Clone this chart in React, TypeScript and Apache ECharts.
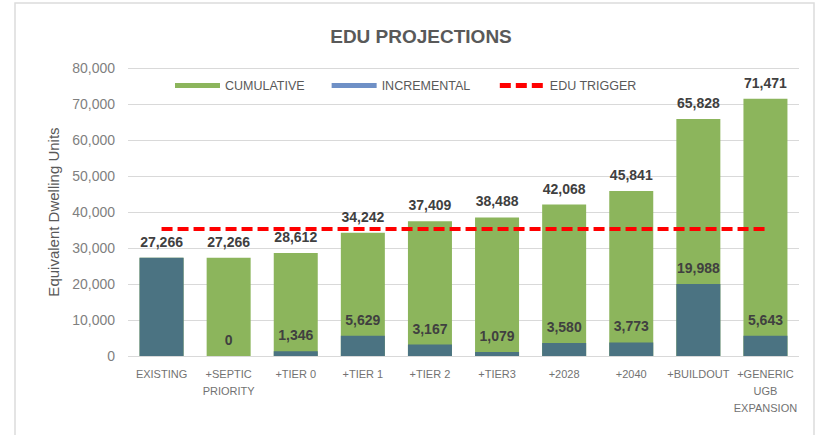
import React, { useEffect, useRef } from "react";
import * as echarts from "echarts";

const categories = [
  "EXISTING",
  "+SEPTIC\nPRIORITY",
  "+TIER 0",
  "+TIER 1",
  "+TIER 2",
  "+TIER3",
  "+2028",
  "+2040",
  "+BUILDOUT",
  "+GENERIC\nUGB\nEXPANSION",
];
const cumulative = [27266, 27266, 28612, 34242, 37409, 38488, 42068, 45841, 65828, 71471];
const incremental = [27266, 0, 1346, 5629, 3167, 1079, 3580, 3773, 19988, 5643];
const hideIncrementalLabel = [true, false, false, false, false, false, false, false, false, false];
const triggerValue = 35300;
const trigger = categories.map(() => triggerValue);

const fmt = (v: number) => v.toLocaleString("en-US");
const FONT = "Liberation Sans, Arial, sans-serif";

export default function App() {
  const ref = useRef<HTMLDivElement>(null);
  useEffect(() => {
    if (!ref.current) return;
    const chart = echarts.init(ref.current, undefined, { renderer: "svg" });
    chart.setOption({
      animation: false,
      backgroundColor: "#ffffff",
      textStyle: { fontFamily: FONT },
      title: {
        text: "EDU PROJECTIONS",
        left: 416,
        textAlign: "center",
        top: 22,
        textStyle: { fontSize: 19, fontWeight: "bold", color: "#595959", fontFamily: FONT },
      },
      graphic: [
        {
          type: "rect",
          shape: { x: 15, y: 3, width: 799, height: 445 },
          style: { fill: "none", stroke: "#dcdcdc", lineWidth: 1.5 },
          silent: true,
          z: -10,
        },
      ],
      legend: {
        left: 175,
        top: 79,
        padding: 0,
        itemWidth: 45,
        itemHeight: 5,
        itemGap: 27,
        textStyle: { fontSize: 12.5, color: "#595959", fontFamily: FONT },
        data: [
          { name: "CUMULATIVE", icon: "rect" },
          { name: "INCREMENTAL", icon: "rect", itemStyle: { color: "#6f90c6" } },
          {
            name: "EDU TRIGGER",
            itemStyle: { opacity: 0 },
            lineStyle: { width: 5, type: [11, 5], color: "#ff0000" },
          },
        ],
      },
      grid: { left: 128, right: 18, top: 68, bottom: 79, containLabel: false },
      xAxis: {
        type: "category",
        data: categories,
        axisLine: { show: false },
        axisTick: { show: false },
        axisLabel: {
          interval: 0,
          fontSize: 11,
          lineHeight: 17,
          color: "#727272",
          margin: 9,
          fontFamily: FONT,
        },
      },
      yAxis: {
        type: "value",
        min: 0,
        max: 80000,
        interval: 10000,
        name: "Equivalent Dwelling Units",
        nameLocation: "middle",
        nameGap: 64,
        nameTextStyle: { fontSize: 15, color: "#595959", fontFamily: FONT },
        axisLabel: {
          fontSize: 14,
          color: "#7f7f7f",
          margin: 13,
          formatter: (v: number) => fmt(v),
          fontFamily: FONT,
        },
        splitLine: { lineStyle: { color: "#d9d9d9", width: 1 } },
      },
      series: [
        {
          name: "CUMULATIVE",
          type: "bar",
          data: cumulative,
          barWidth: 44,
          barGap: "-100%",
          itemStyle: { color: "#8cb55c" },
          label: {
            show: true,
            position: "top",
            distance: 9,
            fontSize: 14,
            fontWeight: "bold",
            color: "#404040",
            fontFamily: FONT,
            formatter: (p: any) => fmt(p.value),
          },
        },
        {
          name: "INCREMENTAL",
          type: "bar",
          data: incremental.map((v, i) =>
            hideIncrementalLabel[i] ? { value: v, label: { show: false } } : v
          ),
          barWidth: 44,
          barGap: "-100%",
          itemStyle: { color: "#4b7382" },
          label: {
            show: true,
            position: "top",
            distance: 9,
            fontSize: 14,
            fontWeight: "bold",
            color: "#404040",
            fontFamily: FONT,
            formatter: (p: any) => fmt(p.value),
          },
        },
        {
          name: "EDU TRIGGER",
          type: "line",
          data: trigger,
          symbol: "none",
          z: 5,
          lineStyle: { color: "#ff0000", width: 4, type: [11, 5] },
          itemStyle: { color: "#ff0000" },
        },
      ],
    });
    return () => chart.dispose();
  }, []);
  return (
    <div
      ref={ref}
      style={{ position: "fixed", left: 0, top: 0, width: 817, height: 435 }}
    />
  );
}
